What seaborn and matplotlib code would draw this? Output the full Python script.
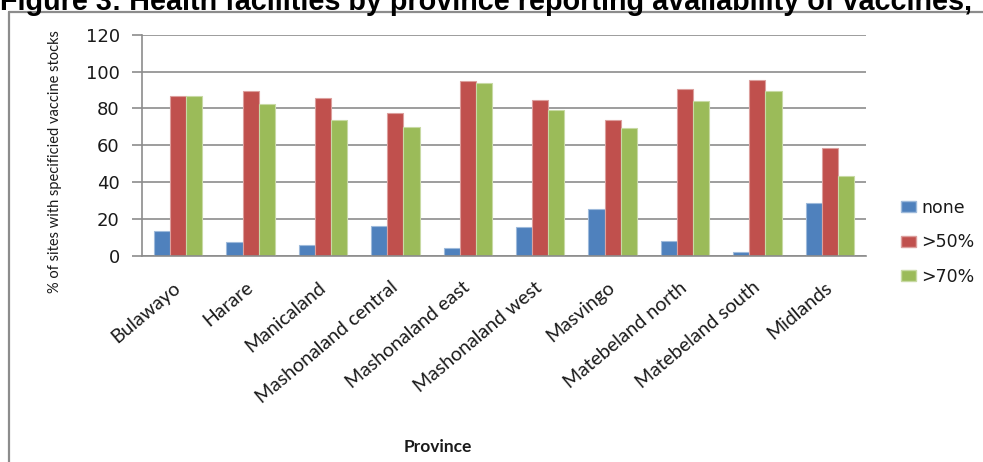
import matplotlib
matplotlib.use("Agg")
import matplotlib.pyplot as plt
import matplotlib.colors as mcolors
from matplotlib.lines import Line2D
from matplotlib.patches import Patch
import numpy as np
import pandas as pd
import seaborn as sns

# ---------------- data ----------------
provinces = ["Bulawayo", "Harare", "Manicaland", "Mashonaland central",
             "Mashonaland east", "Mashonaland west", "Masvingo",
             "Matebeland north", "Matebeland south", "Midlands"]
none_vals = [13.5, 7.7, 5.9, 16.4, 4.5, 15.5, 25.4, 8.3, 2.0, 28.6]
gt50_vals = [86.7, 89.7, 85.8, 77.8, 95.0, 84.7, 73.9, 90.8, 95.5, 58.7]
gt70_vals = [86.7, 82.5, 73.7, 70.1, 94.0, 79.3, 69.5, 84.1, 89.7, 43.2]
series_names = ["none", ">50%", ">70%"]
series_colors = ["#4F81BD", "#C0504D", "#9BBB59"]
y_ticks = [0, 20, 40, 60, 80, 100, 120]
title_text = "Figure 3: Health facilities by province reporting availability of vaccines,"
y_label = "% of sites with specificied vaccine stocks"
x_label = "Province"

df = pd.DataFrame({
    "Province": provinces * 3,
    "series": sum([[s] * len(provinces) for s in series_names], []),
    "value": none_vals + gt50_vals + gt70_vals,
})

# ---------------- figure ----------------
W, H = 983, 462
DPI = 100
sns.set_style("white")
plt.rcParams["font.family"] = ["DejaVu Sans"]
fig = plt.figure(figsize=(W / DPI, H / DPI), dpi=DPI)

ax_left, ax_right = 142, 866
ax_top, ax_bottom = 34.7, 256
ax = fig.add_axes([ax_left / W, 1 - ax_bottom / H,
                   (ax_right - ax_left) / W, (ax_bottom - ax_top) / H])

sns.barplot(data=df, x="Province", y="value", hue="series",
            hue_order=series_names, palette=series_colors, order=provinces,
            width=0.67, gap=0, saturation=1, legend=False, ax=ax,
            errorbar=None)

for p in ax.patches:
    fc = np.array(mcolors.to_rgb(p.get_facecolor()))
    p.set_edgecolor(tuple(fc + (1 - fc) * 0.45))
    p.set_linewidth(0.8)

grey = "#8C8C8C"
ax.set_ylim(0, 120)
ax.set_xlim(-0.5, len(provinces) - 0.5)
ax.set_yticks(y_ticks)
ax.set_yticklabels([str(t) for t in y_ticks], fontsize=13, color="#1a1a1a",
                   family="DejaVu Sans")
ax.yaxis.grid(True, color=grey, linewidth=1.2)
ax.xaxis.grid(False)
ax.set_axisbelow(True)
for s in ["top", "right"]:
    ax.spines[s].set_visible(False)
for s in ["left", "bottom"]:
    ax.spines[s].set_color(grey)
    ax.spines[s].set_linewidth(1.2)

ax.set_xticks(np.arange(-0.5, len(provinces), 1.0), minor=True)
ax.tick_params(axis="x", which="minor", length=5, width=1.2, color=grey,
               direction="out")
ax.tick_params(axis="x", which="major", length=0, pad=21)
ax.tick_params(axis="y", which="major", length=7, width=1.2, color=grey,
               direction="out", pad=9, left=True)
ax.set_xticks(range(len(provinces)))
ax.set_xticklabels(provinces, rotation=40, ha="right", va="center",
                   rotation_mode="anchor", family="Lato", fontsize=14,
                   color="#1a1a1a")
ax.set_xlabel("")
ax.set_ylabel("")

# axis titles
fig.text(55 / W, 1 - 161.5 / H, y_label, rotation=90, ha="center", va="center",
         family="Lato", fontsize=10.5, color="#1a1a1a")
fig.text(438 / W, 1 - 447 / H, x_label, ha="center", va="center",
         family="Lato", fontweight="bold", fontsize=12.5, color="#1a1a1a")

# legend
handles = [Patch(facecolor=c, edgecolor=tuple(np.array(mcolors.to_rgb(c)) * 0.55 + 0.45))
           for c in series_colors]
leg = ax.legend(handles, series_names, loc="upper left",
                bbox_to_anchor=(901 / W, 1 - 199 / H),
                bbox_transform=fig.transFigure, frameon=False,
                prop={"family": "DejaVu Sans", "size": 12.5},
                handlelength=0.85, handleheight=0.6, handletextpad=0.3,
                labelspacing=0.95, borderpad=0, borderaxespad=0)
for t in leg.get_texts():
    t.set_color("#1a1a1a")

# title (cropped at the top edge, as in the source)
ttl = fig.text(0 / W, 1 - 9.5 / H, title_text, ha="left", va="baseline",
               family="Liberation Sans", fontweight="bold", fontsize=20,
               color="black")
fig.canvas.draw()
r = fig.canvas.get_renderer()
wpx = ttl.get_window_extent(r).width
ttl.set_fontsize(20 * 968 / wpx)

# chart border
fig.add_artist(Line2D([9 / W, 9 / W], [0, 1 - 12.3 / H], color=grey,
                      linewidth=1.6, transform=fig.transFigure))
fig.add_artist(Line2D([9 / W, 1], [1 - 12.3 / H, 1 - 12.3 / H], color=grey,
                      linewidth=1.6, transform=fig.transFigure))

fig.savefig("out.png", dpi=DPI)
